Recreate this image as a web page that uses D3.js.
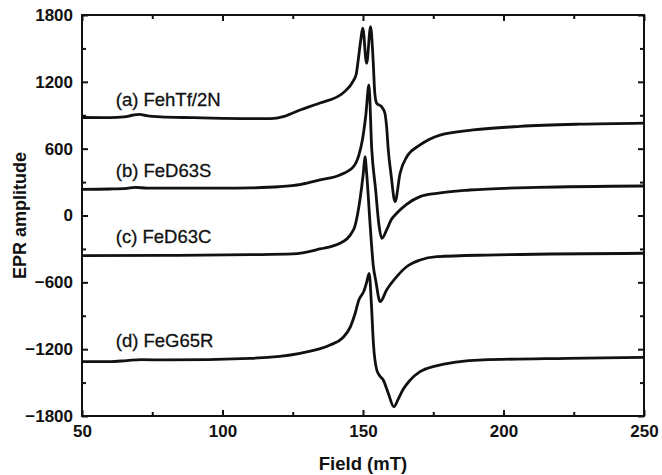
<!DOCTYPE html>
<html>
<head>
<meta charset="utf-8">
<script src="https://cdn.jsdelivr.net/npm/d3@7"></script>
<style>
  body { margin: 0; background: #fff; }
  svg { display: block; }
  text { font-family: 'Liberation Sans', Arial, sans-serif; fill: #111; }
</style>
</head>
<body>
<svg id="chart" width="662" height="475"></svg>
<script>
// Spectra: [field (mT), EPR amplitude]
const traceA = [
  [50, 880], [60, 878], [65, 885], [68, 900], [70.5, 908], [73, 896], [78, 885],
  [90, 878], [100, 872], [110, 870], [117, 870], [122, 890], [127.6, 947],
  [134.7, 1010], [142.9, 1100], [146.6, 1210], [147.6, 1270], [148.3, 1396],
  [149.2, 1576], [149.9, 1681], [151.3, 1366], [152.7, 1695], [153.6, 1396],
  [154.2, 1097], [154.9, 1007], [156.6, 977], [157.8, 918], [158.4, 797],
  [159.0, 588], [160.0, 364], [161.4, 124], [163.2, 379], [165.6, 528],
  [170.3, 633], [177.4, 722], [189.2, 768], [205.9, 800], [227, 820], [250, 830]
]
const traceB = [
  [50, 235], [60, 238], [66, 244], [69, 252], [73, 246], [80, 245], [100, 245],
  [110, 248], [120, 258], [128, 280], [134.7, 319], [141.8, 364], [146.6, 438],
  [148.5, 540], [149.8, 680], [151.0, 900], [152.1, 1172], [153.1, 600],
  [154.5, 229], [155.6, -70], [156.7, -205], [158.4, -130], [160, -40],
  [162, 20], [165.5, 100], [170.3, 169], [176.3, 199], [188, 229], [212, 253],
  [250, 265]
]
const traceC = [
  [50, -360], [80, -358], [110, -352], [125, -345], [134.7, -300], [141.8, -250],
  [146.6, -130], [148.9, 139], [150.1, 379], [150.7, 528], [151.3, 379],
  [152.5, -70], [153.7, -460], [154.5, -579], [156.1, -774], [158.4, -669],
  [162.0, -549], [165.5, -460], [170.3, -400], [176.3, -370], [194, -355],
  [250, -339]
]
const traceD = [
  [50, -1312], [60, -1312], [66, -1302], [71, -1294], [80, -1297], [109.8, -1282],
  [127.6, -1237], [138.3, -1163], [142.7, -1100], [145.5, -1000], [147.2, -880],
  [148.5, -760], [149.5, -715], [150.3, -680], [151.3, -600], [152.2, -519],
  [153.0, -800], [153.7, -1147], [154.9, -1387], [156.0, -1440], [157.2, -1477],
  [159.0, -1596], [161.0, -1717], [162.5, -1650], [164.3, -1560], [166.7, -1480],
  [170.3, -1402], [174.9, -1357], [192.7, -1297], [222.6, -1282], [250, -1273]
]

const traces = [traceA, traceB, traceC, traceD]
const traceLabels = ['(a) FehTf/2N', '(b) FeD63S', '(c) FeD63C', '(d) FeG65R']
const labelPos = [[62, 985], [62, 350], [62, -250], [62, -1185]]

const xTicks = [50, 100, 150, 200, 250]
const xMinor = [75, 125, 175, 225]
const yTicks = [-1800, -1200, -600, 0, 600, 1200, 1800]
const yMinor = [-1500, -900, -300, 300, 900, 1500]

const width = 662
const height = 475
const margin = { top: 15, right: 18, bottom: 59, left: 82 }
const innerW = width - margin.left - margin.right
const innerH = height - margin.top - margin.bottom

const svg = d3.select('#chart')
const g = svg.append('g')
  .attr('transform', `translate(${margin.left},${margin.top})`)

const x = d3.scaleLinear().domain([50, 250]).range([0, innerW])
const y = d3.scaleLinear().domain([-1800, 1800]).range([innerH, 0])

const fmt = d => String(d).replace('-', '\u2212')

// Inward ticks on all four sides
const axes = [
  [() => d3.axisBottom(x), `translate(0,${innerH})`, xTicks, xMinor, true],
  [() => d3.axisTop(x), 'translate(0,0)', xTicks, xMinor, false],
  [() => d3.axisLeft(y), 'translate(0,0)', yTicks, yMinor, true],
  [() => d3.axisRight(y), `translate(${innerW},0)`, yTicks, yMinor, false]
]
axes.forEach(([mk, tr, major, minor, labels]) => {
  const maj = g.append('g').attr('transform', tr)
    .call(mk().tickValues(major).tickSize(-6).tickPadding(9)
      .tickFormat(labels ? fmt : ''))
  const mnr = g.append('g').attr('transform', tr)
    .call(mk().tickValues(minor).tickSize(-4).tickFormat(''))
  ;[maj, mnr].forEach(s => {
    s.select('.domain').remove()
    s.selectAll('line').attr('stroke', '#111').attr('stroke-width', 2)
  })
  maj.selectAll('text')
    .style('font-size', '17px')
    .style('font-weight', 'bold')
    .attr('fill', '#111')
})

g.append('rect')
  .attr('width', innerW)
  .attr('height', innerH)
  .attr('fill', 'none')
  .attr('stroke', '#111')
  .attr('stroke-width', 2)

const line = d3.line()
  .x(d => x(d[0]))
  .y(d => y(d[1]))
  .curve(d3.curveMonotoneX)

g.selectAll('.trace')
  .data(traces)
  .join('path')
  .attr('class', 'trace')
  .attr('d', line)
  .attr('fill', 'none')
  .attr('stroke', '#111')
  .attr('stroke-width', 2.8)
  .attr('stroke-linejoin', 'round')

g.selectAll('.tlabel')
  .data(traceLabels)
  .join('text')
  .attr('class', 'tlabel')
  .attr('x', (d, i) => x(labelPos[i][0]))
  .attr('y', (d, i) => y(labelPos[i][1]))
  .style('font-size', '18.5px')
  .style('stroke', '#111')
  .style('stroke-width', 0.3)
  .text(d => d)

// Axis titles
svg.append('text')
  .attr('x', margin.left + innerW / 2)
  .attr('y', 470)
  .attr('text-anchor', 'middle')
  .style('font-size', '18.5px')
  .style('font-weight', 'bold')
  .text('Field (mT)')

svg.append('text')
  .attr('transform', `translate(26,${margin.top + innerH / 2}) rotate(-90)`)
  .attr('text-anchor', 'middle')
  .style('font-size', '18px')
  .style('font-weight', 'bold')
  .text('EPR amplitude')
</script>
</body>
</html>
